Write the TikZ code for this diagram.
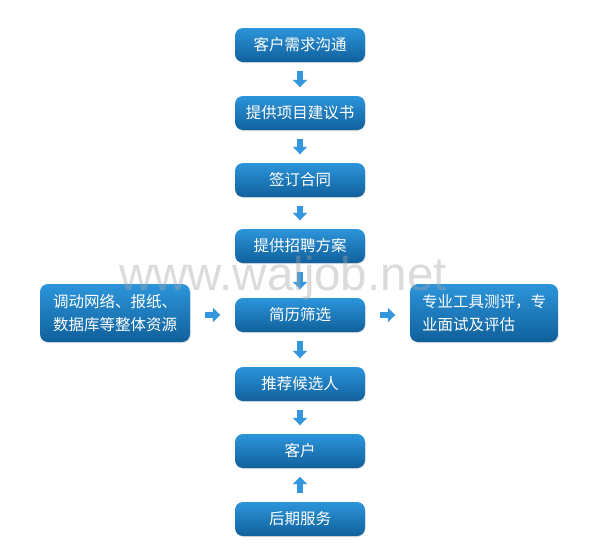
\documentclass[tikz,border=0pt]{standalone}
\usepackage{fontspec}
\setmainfont{Noto Sans CJK SC}
\newfontfamily\wmfont{Liberation Sans}
\usetikzlibrary{arrows.meta,shadows}
\definecolor{boxtop}{HTML}{2C95DB}
\definecolor{boxbot}{HTML}{10609B}
\definecolor{arr}{HTML}{3496DC}
\tikzset{
  box/.style={rounded corners=8pt, top color=boxtop, bottom color=boxbot, draw=none,
    text=white, font=\fontsize{15.5}{23}\selectfont, minimum width=130pt, minimum height=34pt,
    inner sep=0pt, drop shadow={shadow xshift=0.6pt, shadow yshift=-1pt, opacity=0.25}},
  sidebox/.style={box, minimum width=150pt, minimum height=58pt, align=left},
  blk/.style={draw=arr, line width=6.5pt, -{Triangle[width=14pt,length=7.5pt]}, shorten >=8.5pt, shorten <=8.5pt},
  blkh/.style={blk, shorten >=14.5pt, shorten <=14.5pt}
}
\begin{document}
\begin{tikzpicture}[x=1pt,y=-1pt]
\useasboundingbox[fill=white] (0,0) rectangle (600,555);
\node[box] (b1) at (300,45) {客户需求沟通};
\node[box] (b2) at (300,113) {提供项目建议书};
\node[box] (b3) at (300,180) {签订合同};
\node[box] (b4) at (300,246) {提供招聘方案};
\node[box] (b5) at (300,315) {简历筛选};
\node[box] (b6) at (300,384) {推荐候选人};
\node[box] (b7) at (300,451) {客户};
\node[box] (b8) at (300,519) {后期服务};
\node[sidebox] (l) at (115,313) {调动网络、报纸、\\数据库等整体资源};
\node[sidebox, minimum width=148pt] (r) at (484,313) {专业工具测评，专\\业面试及评估};
\draw[blk] (b1) -- (b2);
\draw[blk] (b2) -- (b3);
\draw[blk] (b3) -- (b4);
\draw[blk] (b4) -- (b5);
\draw[blk] (b5) -- (b6);
\draw[blk] (b6) -- (b7);
\draw[blk] (b8) -- (b7);
\draw[blkh] (l.east |- b5) -- (b5);
\draw[blkh] (b5) -- (r.west |- b5);
\node[font=\wmfont\fontsize{47.5}{50}\selectfont, text=black!35, opacity=0.4, anchor=base, inner sep=0pt] (wm) at (283,290) {www.waljob.net};
\end{tikzpicture}
\end{document}
